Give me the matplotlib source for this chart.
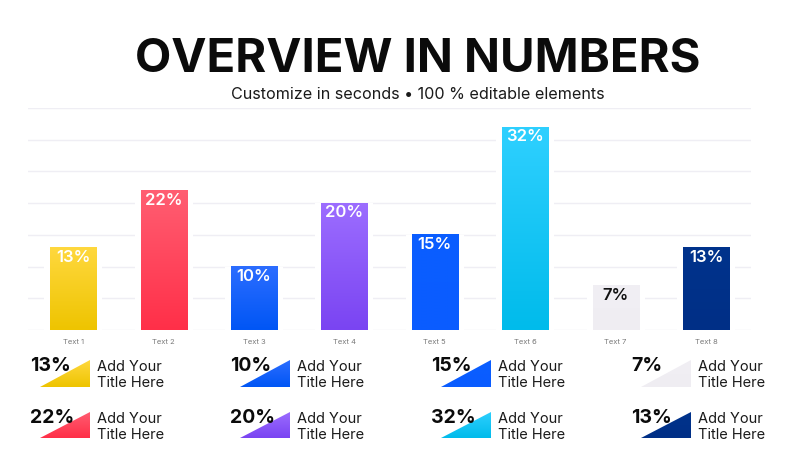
import matplotlib
matplotlib.use("Agg")
import matplotlib.pyplot as plt
import numpy as np
from matplotlib.colors import to_rgb, LinearSegmentedColormap
from matplotlib.patches import Polygon

plt.rcParams['font.family'] = ['Inter', 'DejaVu Sans']

categories = ["Text 1", "Text 2", "Text 3", "Text 4", "Text 5", "Text 6", "Text 7", "Text 8"]
values = [13, 22, 10, 20, 15, 32, 7, 13]
labels = ["13%", "22%", "10%", "20%", "15%", "32%", "7%", "13%"]
top_colors = ["#FFD83E", "#FF5E72", "#2C6DFF", "#9C6DFF", "#0A5EFF", "#2FD0FF", "#F1EFF4", "#00338C"]
bottom_colors = ["#EEC400", "#FF2F48", "#0056F5", "#7A44F2", "#0A5CFF", "#00BBEB", "#EFEDF2", "#002F86"]
label_colors = ["white", "white", "white", "white", "white", "white", "#111111", "white"]
legend_order = [0, 2, 4, 6, 1, 3, 5, 7]
item_title = "Add Your\nTitle Here"
y_ticks = [0, 5, 10, 15, 20, 25, 30, 35]

fig = plt.figure(figsize=(8, 4.5), dpi=100)
fig.patch.set_facecolor("white")

fig.text(0.522, 0.84, "OVERVIEW IN NUMBERS", ha="center", va="baseline",
         fontsize=34, fontweight="bold", color="#0B0B0B")
fig.text(0.522, 0.78, "Customize in seconds \u2022 100 % editable elements", ha="center",
         va="baseline", fontsize=11.6, color="#1A1A1A")

ax = fig.add_axes([0.035, 0.2667, 0.904, 0.4933])
ax.set_xlim(-0.5, len(categories) - 0.5)
ax.set_ylim(0, 35)
for s in ax.spines.values():
    s.set_visible(False)
ax.set_yticks(y_ticks)
ax.tick_params(axis="y", left=False, labelleft=False)
ax.tick_params(axis="x", bottom=False, pad=3, labelsize=5.5, labelcolor="#7A7A7A")
ax.set_xticks(range(len(categories)))
ax.set_xticklabels(categories)
ax.grid(axis="y", color="#EFEEF4", linewidth=1.0, zorder=0)
ax.set_axisbelow(True)

x = np.arange(len(categories))
# white halo behind bars (gridline gaps)
ax.bar(x, values, width=0.64, color="white", zorder=1)
bars = ax.bar(x, values, width=0.51, color=bottom_colors, zorder=2)


def grad_cmap(ct, cb):
    return LinearSegmentedColormap.from_list("g", [to_rgb(cb), to_rgb(ct)])


for b, ct, cb in zip(bars, top_colors, bottom_colors):
    x0, w, h = b.get_x(), b.get_width(), b.get_height()
    g = np.linspace(0, 1, 256).reshape(-1, 1)
    ax.imshow(g, extent=(x0, x0 + w, 0, h), origin="lower", aspect="auto",
              cmap=grad_cmap(ct, cb), zorder=3)

for b, lab, lc in zip(bars, labels, label_colors):
    ax.annotate(lab, (b.get_x() + b.get_width() / 2, b.get_height()),
                xytext=(0, -1.5), textcoords="offset points", ha="center", va="top",
                fontsize=12, fontweight="semibold", color=lc, zorder=5)
ax.set_xlim(-0.5, len(categories) - 0.5)
ax.set_ylim(0, 35)

# legend items: 4 columns x 2 rows
col_left = [0.0375, 0.2875, 0.5387, 0.7887]
row_top = [0.2111, 0.0956]
for k, idx in enumerate(legend_order):
    r, c = divmod(k, 4)
    left = col_left[c]
    top = row_top[r]
    fig.text(left, top - 0.004, labels[idx], ha="left", va="top", fontsize=14,
             fontweight="bold", color="#0B0B0B")
    tax = fig.add_axes([left + 0.0125, top - 0.07, 0.0625, 0.0578])
    tax.set_xlim(0, 1)
    tax.set_ylim(0, 1)
    tax.axis("off")
    tri = Polygon([(0, 0), (1, 0), (1, 1)], closed=True, facecolor="none", edgecolor="none")
    tax.add_patch(tri)
    g = np.linspace(0, 1, 256).reshape(-1, 1)
    im = tax.imshow(g, extent=(0, 1, 0, 1), origin="lower", aspect="auto",
                    cmap=grad_cmap(top_colors[idx], bottom_colors[idx]))
    im.set_clip_path(tri)
    fig.text(left + 0.084, top - 0.011, item_title, ha="left", va="top",
             fontsize=10.5, color="#1A1A1A", linespacing=1.15)

fig.savefig("out.png", dpi=100, facecolor="white")
